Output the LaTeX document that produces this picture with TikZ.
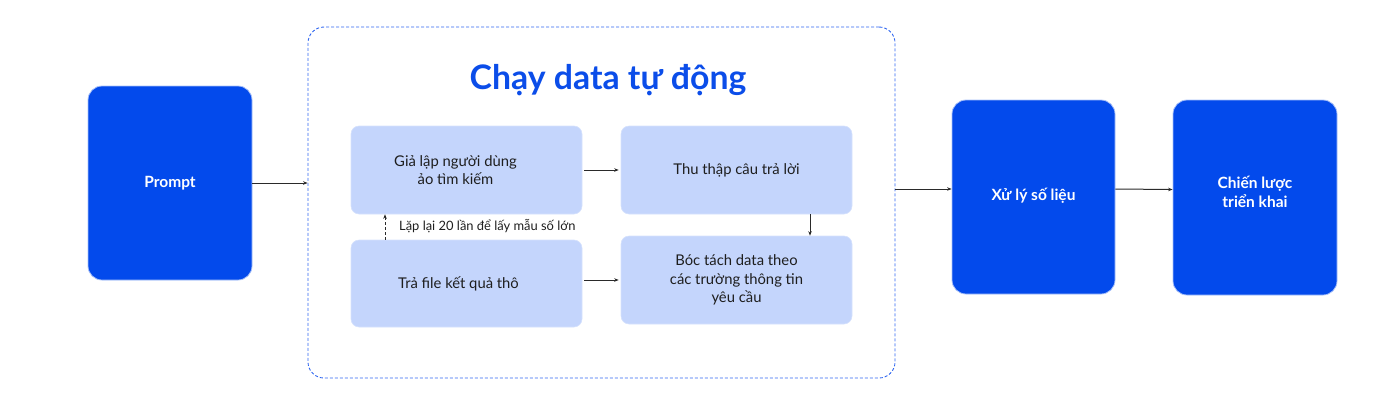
\documentclass[tikz,border=0pt]{standalone}
\usepackage{fontspec}
\setmainfont{Lato}
\usetikzlibrary{arrows.meta}
\definecolor{darkblue}{HTML}{034AEC}
\definecolor{lightblue}{HTML}{C4D5FC}
\definecolor{titleblue}{HTML}{0B4DE9}
\definecolor{edgeblue}{HTML}{2F66F0}
\definecolor{txt}{HTML}{1E1E1E}
\definecolor{arr}{HTML}{2A2A2A}
\tikzset{
  bigbox/.style={draw=darkblue!35, line width=0.8pt, fill=darkblue, rounded corners=14pt,
    text=white, font=\fontsize{15.5}{18}\selectfont\bfseries, align=center, inner sep=0pt},
  smallbox/.style={draw=lightblue!70!white, line width=0.6pt, fill=lightblue, rounded corners=8pt,
    text=txt, font=\fontsize{14.8}{18.5}\selectfont, align=center, inner sep=0pt,
    minimum width=231pt},
  conn/.style={draw=arr, line width=1pt, -{Stealth[length=4.5pt,width=3.5pt]}},
}
\begin{document}
\begin{tikzpicture}[x=1pt,y=-1pt]
\useasboundingbox (0,0) rectangle (1400,405);
% container
\node[draw=edgeblue, densely dashed, line width=0.9pt, rounded corners=16pt,
  minimum width=587pt, minimum height=351pt, inner sep=0pt] (box) at (601.5,202.5) {};
\node[text=titleblue, font=\fontsize{33.8}{38}\selectfont\bfseries] (title) at (608,80) {Chạy data tự động};
% big boxes
\node[bigbox, minimum width=164pt, minimum height=194pt] (prompt) at (170,183) {\raisebox{1pt}{Prompt}};
\node[bigbox, minimum width=163pt, minimum height=194pt] (xuly) at (1033.5,197) {\raisebox{6pt}{Xử lý số liệu}};
\node[bigbox, minimum width=164pt, minimum height=195pt] (cl) at (1255,197.5) {\raisebox{12pt}{\shortstack{Chiến lược\\[0pt]triển khai}}};
% small boxes
\node[smallbox, minimum height=88pt] (a) at (466.5,170) {\hspace*{-22pt}Giả lập người dùng\\\hspace*{-22pt}ảo tìm kiếm};
\node[smallbox, minimum height=88pt] (b) at (736.5,170) {Thu thập câu trả lời};
\node[smallbox, minimum height=87pt] (c) at (466.5,283.5) {\hspace*{-16pt}\raisebox{2pt}{Trả file kết quả thô}};
\node[smallbox, minimum height=88pt] (d) at (736.5,280) {Bóc tách data theo\\các trường thông tin\\yêu cầu};
% label
\node[anchor=west, text=txt, font=\fontsize{12.9}{15}\selectfont, inner sep=0pt] (lbl) at (399,226) {Lặp lại 20 lần để lấy mẫu số lớn};
% connectors
\draw[conn] (prompt.east) -- (prompt.east -| box.west);
\draw[conn] ([yshift=8pt]xuly.west -| box.east) -- ([yshift=8pt]xuly.west);
\draw[conn] ([yshift=8pt]xuly.east) -- ([yshift=8pt]cl.west);
\draw[conn] ([xshift=2pt]a.east) -- ([xshift=-2pt]b.west);
\draw[conn] ([xshift=2pt]c.east |- d.west) -- ([xshift=-2pt]d.west);
\draw[conn] ([xshift=73.5pt]b.south) -- ([xshift=73.5pt]b.south |- d.north);
\draw[conn, densely dashed] ([xshift=-81.5pt]c.north) -- ([xshift=-81.5pt]a.south);
\end{tikzpicture}
\end{document}
